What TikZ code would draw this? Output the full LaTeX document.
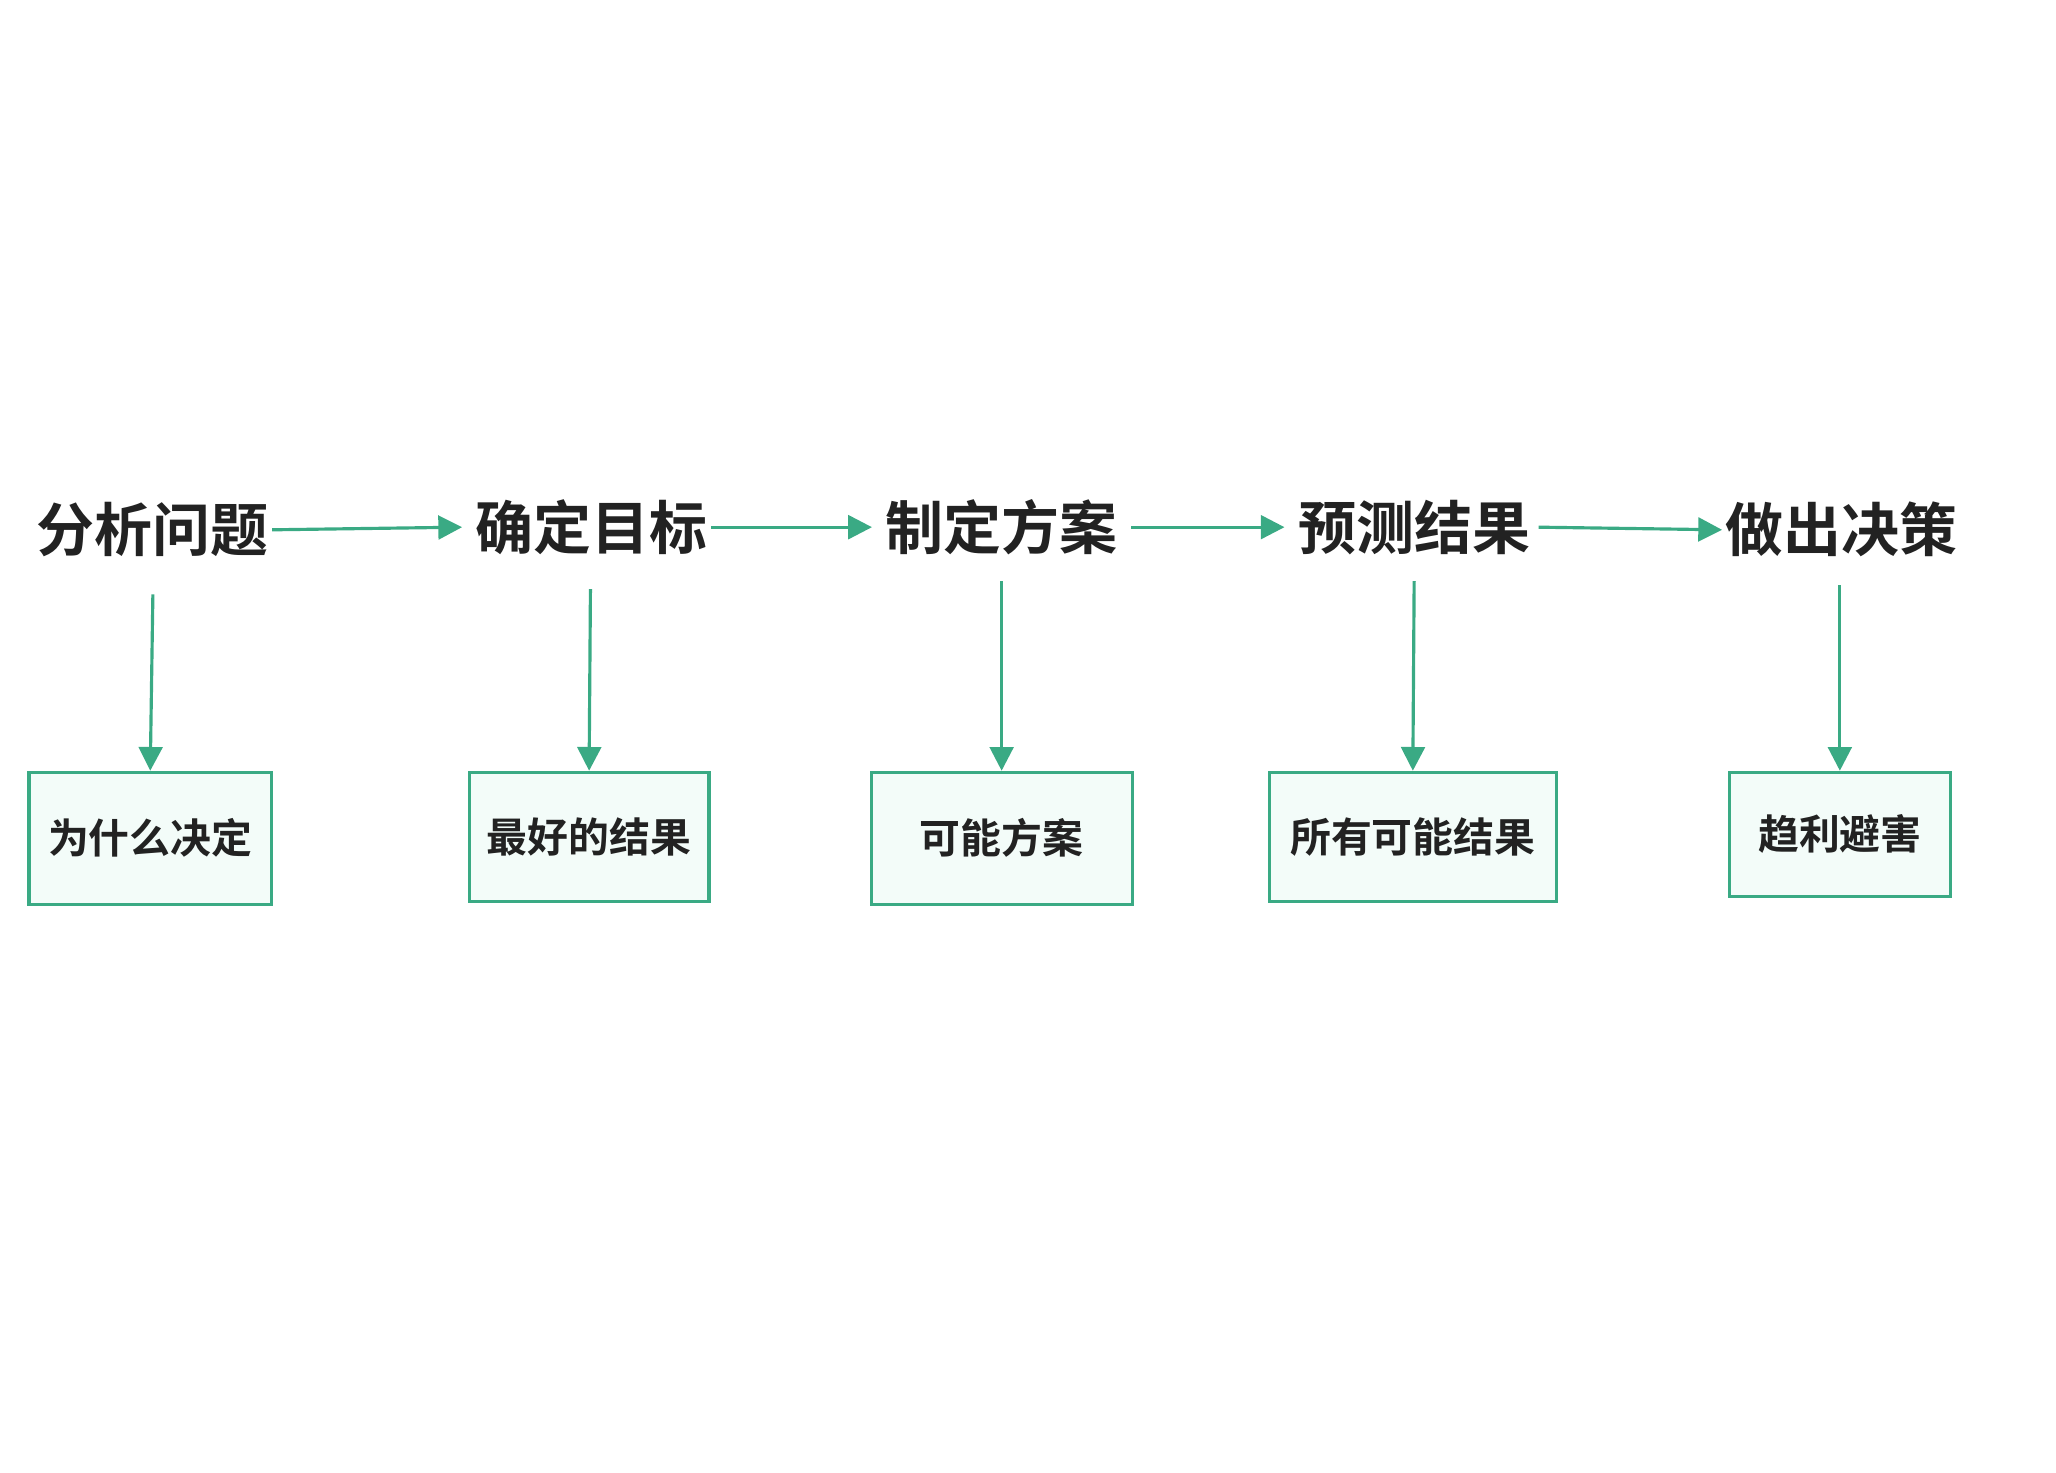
\documentclass[tikz,border=0pt]{standalone}
\usepackage{fontspec}
\setmainfont{Noto Sans CJK SC Bold}
\usetikzlibrary{arrows.meta}
\definecolor{flowgreen}{RGB}{58,170,132}
\definecolor{boxfill}{RGB}{243,252,249}
\definecolor{txtdark}{RGB}{34,34,34}

\begin{document}
\begin{tikzpicture}[x=0.5pt,y=-0.5pt,
  steptitle/.style={text=txtdark,font=\fontsize{22}{26}\selectfont,inner sep=1pt},
  resultbox/.style={draw=flowgreen,line width=1.2pt,fill=boxfill,text=txtdark,
    font=\fontsize{15.5}{18}\selectfont,inner sep=0pt},
  flow/.style={draw=flowgreen,line width=1.2pt,-{Triangle[length=9pt,width=9pt]}}]
  \useasboundingbox (0,0) rectangle (1560,1117);

  % Main steps
  \node[steptitle] (s1) at (116,402) {分析问题};
  \node[steptitle] (s2) at (449,400) {确定目标};
  \node[steptitle] (s3) at (760,400) {制定方案};
  \node[steptitle] (s4) at (1073,400) {预测结果};
  \node[steptitle] (s5) at (1397,402) {做出决策};

  % Result boxes
  \node[resultbox,minimum width=92pt,minimum height=50pt] (r1) at (114,636) {为什么决定};
  \node[resultbox,minimum width=91pt,minimum height=49pt] (r2) at (447,635) {最好的结果};
  \node[resultbox,minimum width=99pt,minimum height=50pt] (r3) at (760,636) {可能方案};
  \node[resultbox,minimum width=109pt,minimum height=49pt] (r4) at (1072,635) {所有可能结果};
  \node[resultbox,minimum width=84pt,minimum height=47pt] (r5) at (1396,633) {趋利避害};

  % Start points below the steps
  \coordinate (d1) at (116,451);
  \coordinate (d2) at (448,447);
  \coordinate (d3) at (760,441);
  \coordinate (d4) at (1073,441);
  \coordinate (d5) at (1396,444);

  % Horizontal flow
  \draw[flow] (s1.east) -- ([xshift=-4pt]s2.west);
  \draw[flow] (s2.east) -- ([xshift=-4pt]s3.west);
  \draw[flow] ([xshift=4pt]s3.east) -- ([xshift=-4pt]s4.west);
  \draw[flow] ([xshift=2pt]s4.east) -- (s5.west);

  % Vertical flow
  \draw[flow] (d1) -- (r1.north);
  \draw[flow] (d2) -- (r2.north);
  \draw[flow] (d3) -- (r3.north);
  \draw[flow] (d4) -- (r4.north);
  \draw[flow] (d5) -- (r5.north);
\end{tikzpicture}
\end{document}
